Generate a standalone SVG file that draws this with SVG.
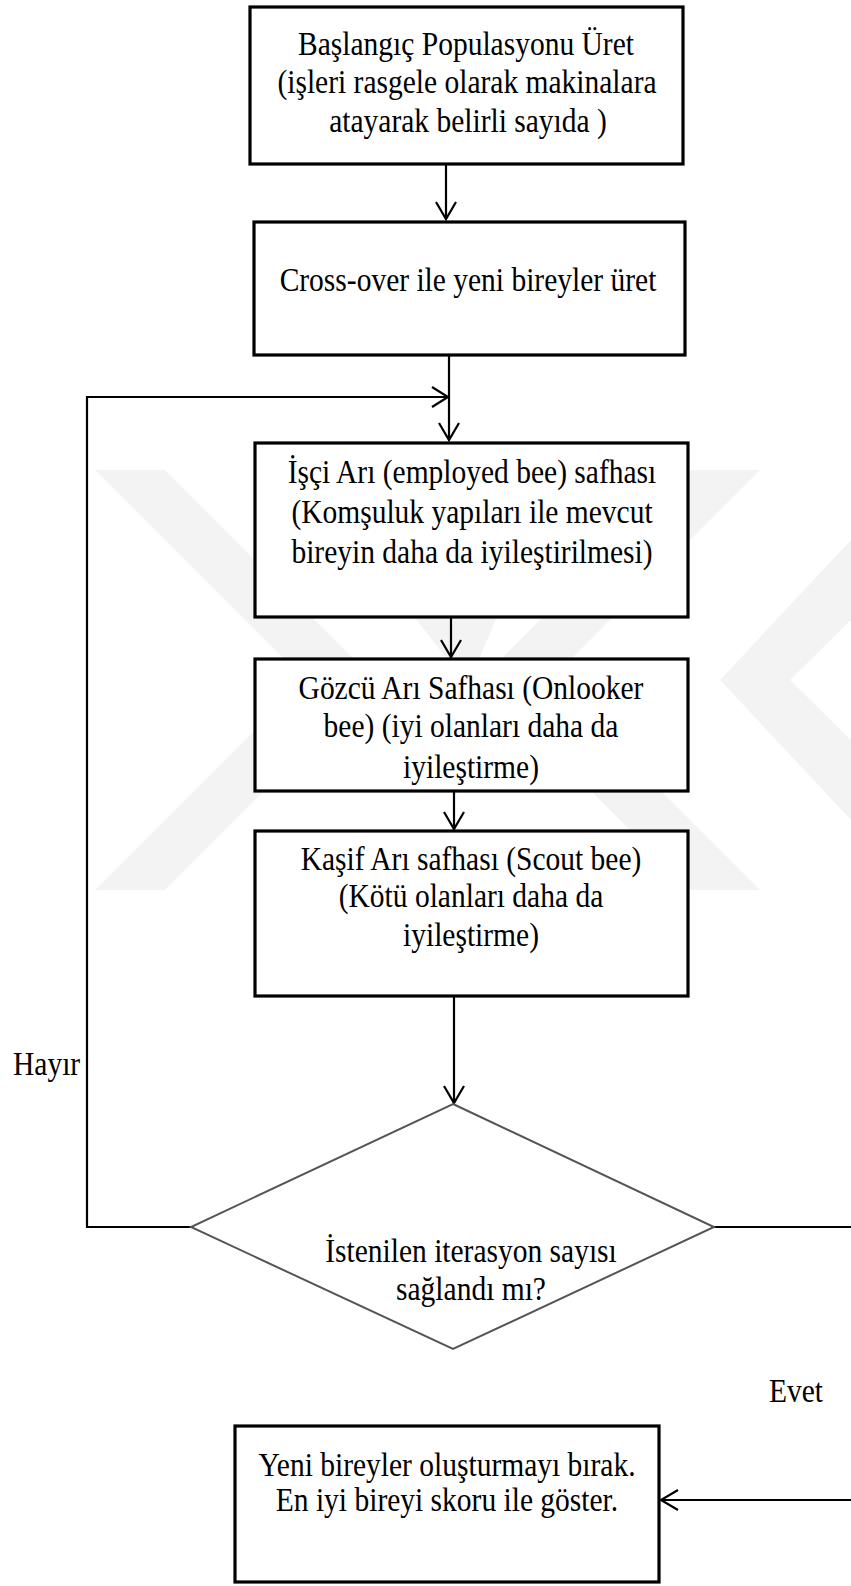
<svg xmlns="http://www.w3.org/2000/svg" width="851" height="1586" viewBox="0 0 851 1586">
<style>
.bg{fill:#ffffff}
.wm{fill:#f3f3f3}
.box{fill:#ffffff;stroke:#000000;stroke-width:3.2}
.dia{fill:#ffffff;stroke:#555555;stroke-width:2}
.ln{fill:none;stroke:#000000;stroke-width:2.2}
.t{font-family:"Liberation Serif","Times New Roman",serif;font-size:29.5px;fill:#000000;text-anchor:middle}
.ts{font-family:"Liberation Serif","Times New Roman",serif;font-size:29.5px;fill:#000000;text-anchor:start}
</style>
<rect class="bg" x="0" y="0" width="851" height="1586"/>
<g id="watermark">
<polygon class="wm" points="95,470 165,470 375,680 165,890 95,890 305,680"/>
<polygon class="wm" points="300,470 370,470 500,610 470,680 440,650"/>
<polygon class="wm" points="760,470 690,470 480,680 690,890 760,890 550,680"/>
<polygon class="wm" points="851,540 851,620 790,680 851,740 851,820 720,680"/>
</g>
<g id="connectors">
<line class="ln" x1="446" y1="164" x2="446" y2="219"/>
<polyline class="ln" points="436,202 446,219 456,202"/>
<line class="ln" x1="449" y1="355" x2="449" y2="440"/>
<polyline class="ln" points="439,423 449,440 459,423"/>
<polyline class="ln" points="191,1227 87,1227 87,397 448,397"/>
<polyline class="ln" points="432,387 448,397 432,407"/>
<line class="ln" x1="451" y1="617" x2="451" y2="657"/>
<polyline class="ln" points="441,640 451,657 461,640"/>
<line class="ln" x1="454" y1="791" x2="454" y2="829"/>
<polyline class="ln" points="444,812 454,829 464,812"/>
<line class="ln" x1="454" y1="996" x2="454" y2="1103"/>
<polyline class="ln" points="444,1086 454,1103 464,1086"/>
<polyline class="ln" points="714,1227 851,1227"/>
<line class="ln" x1="851" y1="1500" x2="661" y2="1500"/>
<polyline class="ln" points="678,1490 661,1500 678,1510"/>
</g>
<g id="n1">
<rect class="box" x="250" y="7" width="433" height="157"/>
<g transform="scale(1,1.13)"><text class="t"><tspan x="466" y="48.7">Başlangıç Populasyonu Üret</tspan><tspan x="467" y="82.3">(işleri rasgele olarak makinalara</tspan><tspan x="468" y="116.8">atayarak belirli sayıda )</tspan></text></g>
</g>
<g id="n2">
<rect class="box" x="254" y="222" width="431" height="133"/>
<g transform="scale(1,1.13)"><text class="t" x="468" y="257.5">Cross-over ile yeni bireyler üret</text></g>
</g>
<g id="n3">
<rect class="box" x="255" y="443" width="433" height="174"/>
<g transform="scale(1,1.13)"><text class="t"><tspan x="472" y="427.4">İşçi Arı (employed bee) safhası</tspan><tspan x="472" y="462.8">(Komşuluk yapıları ile mevcut</tspan><tspan x="472" y="498.2">bireyin daha da iyileştirilmesi)</tspan></text></g>
</g>
<g id="n4">
<rect class="box" x="255" y="659" width="433" height="132"/>
<g transform="scale(1,1.13)"><text class="t"><tspan x="471" y="618.6">Gözcü Arı Safhası (Onlooker</tspan><tspan x="471" y="652.2">bee) (iyi olanları daha da</tspan><tspan x="471" y="688.5">iyileştirme)</tspan></text></g>
</g>
<g id="n5">
<rect class="box" x="255" y="831" width="433" height="165"/>
<g transform="scale(1,1.13)"><text class="t"><tspan x="471" y="769.9">Kaşif Arı safhası (Scout bee)</tspan><tspan x="471" y="802.7">(Kötü olanları daha da</tspan><tspan x="471" y="837.2">iyileştirme)</tspan></text></g>
</g>
<g id="n6">
<polygon class="dia" points="453,1104 714,1227 453,1349 191,1227"/>
<g transform="scale(1,1.13)"><text class="t"><tspan x="471" y="1116.8">İstenilen iterasyon sayısı</tspan><tspan x="471" y="1150.4">sağlandı mı?</tspan></text></g>
</g>
<g id="n7">
<rect class="box" x="235" y="1426" width="424" height="156"/>
<g transform="scale(1,1.13)"><text class="t"><tspan x="447" y="1306.2">Yeni bireyler oluşturmayı bırak.</tspan><tspan x="447" y="1337.2">En iyi bireyi skoru ile göster.</tspan></text></g>
</g>
<g id="labels">
<g transform="scale(1,1.13)"><text class="ts" x="13" y="951.3">Hayır</text><text class="ts" x="769" y="1240.7">Evet</text></g>
</g>
</svg>
